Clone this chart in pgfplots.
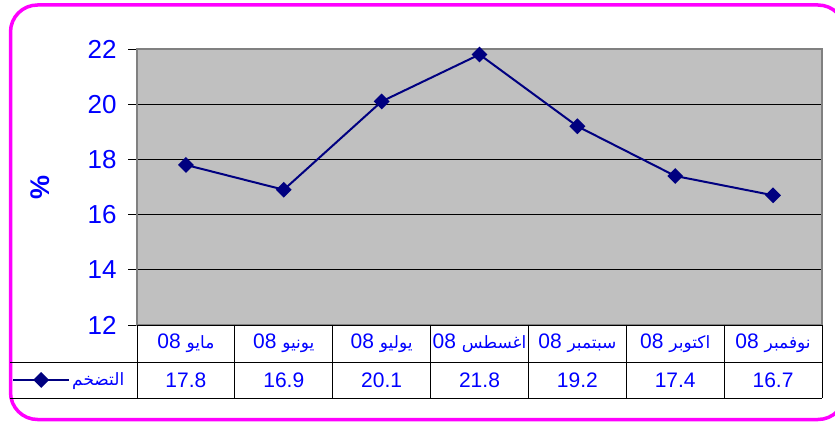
\documentclass[border=0pt]{standalone}
\usepackage{pgfplots}
\pgfplotsset{compat=1.18}
\usepackage{fontspec}
\setmainfont{Liberation Sans}
\newfontfamily\arabicfont[Script=Arabic]{DejaVu Sans}
\TeXXeTstate=1
\definecolor{navy}{RGB}{0,0,128}
\definecolor{tblue}{RGB}{0,0,255}
\definecolor{mag}{RGB}{255,0,255}
\definecolor{plotgray}{RGB}{192,192,192}
\definecolor{edgegray}{RGB}{128,128,128}
\begin{document}
\begin{tikzpicture}[x=1pt,y=1pt]
\useasboundingbox (0,0) rectangle (835,423);
\begin{scope}
\clip (0,0) rectangle (835,423);
\draw[mag, line width=3.5pt, rounded corners=27pt] (10.5,3.5) rectangle (845,418);
\end{scope}
\begin{axis}[at={(137pt,98pt)}, anchor=south west,
  width=685pt, height=276pt, scale only axis,
  xmin=-0.5, xmax=6.5, ymin=12, ymax=22,
  ytick={12,14,16,18,20,22}, xtick=\empty, ytick pos=left,
  axis background/.style={fill=plotgray},
  axis line style={draw=edgegray, line width=1.5pt},
  ymajorgrids, grid style={black, line width=0.8pt},
  tick align=outside, major tick length=9pt,
  ytick style={black, line width=0.8pt},
  yticklabel style={text=tblue, font=\fontsize{26}{26}\selectfont, xshift=-8pt, /pgf/number format/assume math mode=true},
  ylabel={\textbf{\%}},
  every axis y label/.style={at={(axis description cs:-0.1416,0.5)}, rotate=90, anchor=center, text=tblue, font=\fontsize{27}{27}\selectfont},
  legend style={at={(axis description cs:-0.1825,-0.199)}, anchor=west, draw=none, fill=none, inner sep=0pt, font=\fontsize{17}{17}\selectfont, text=tblue},
  legend image code/.code={\draw[mark repeat=2,mark phase=2,#1] plot coordinates {(0pt,0pt) (28pt,0pt) (56pt,0pt)};},
]
\addplot[navy, line width=2pt, mark=square*, mark size=4.6pt, mark options={rotate=45, solid}]
  coordinates {(0,17.8)(1,16.9)(2,20.1)(3,21.8)(4,19.2)(5,17.4)(6,16.7)};
\addlegendentry{\arabicfont\beginR التضخم\endR}
\end{axis}
% table
\draw[black, line width=0.9pt] (137,98) -- (822,98);
\draw[black, line width=0.9pt] (10,61) -- (822,61);
\draw[black, line width=0.9pt] (10,25) -- (822,25);
\foreach \i in {0,...,7} {
  \draw[black, line width=0.9pt] ({137+97.857*\i},98) -- ({137+97.857*\i},25);
}
\foreach \m [count=\i from 0] in {مايو,يونيو,يوليو,اغسطس,سبتمبر,اكتوبر,نوفمبر} {
  \node[text=tblue, inner sep=0pt] at ({137+97.857*(\i+0.5)},80)
    {\fontsize{21}{21}\selectfont 08 {\arabicfont\fontsize{17}{17}\selectfont\beginR \m\endR}};
}
\foreach \v [count=\i from 0] in {17.8,16.9,20.1,21.8,19.2,17.4,16.7} {
  \node[text=tblue, inner sep=0pt] at ({137+97.857*(\i+0.5)},43)
    {\fontsize{21}{21}\selectfont \v};
}
\end{tikzpicture}
\end{document}
